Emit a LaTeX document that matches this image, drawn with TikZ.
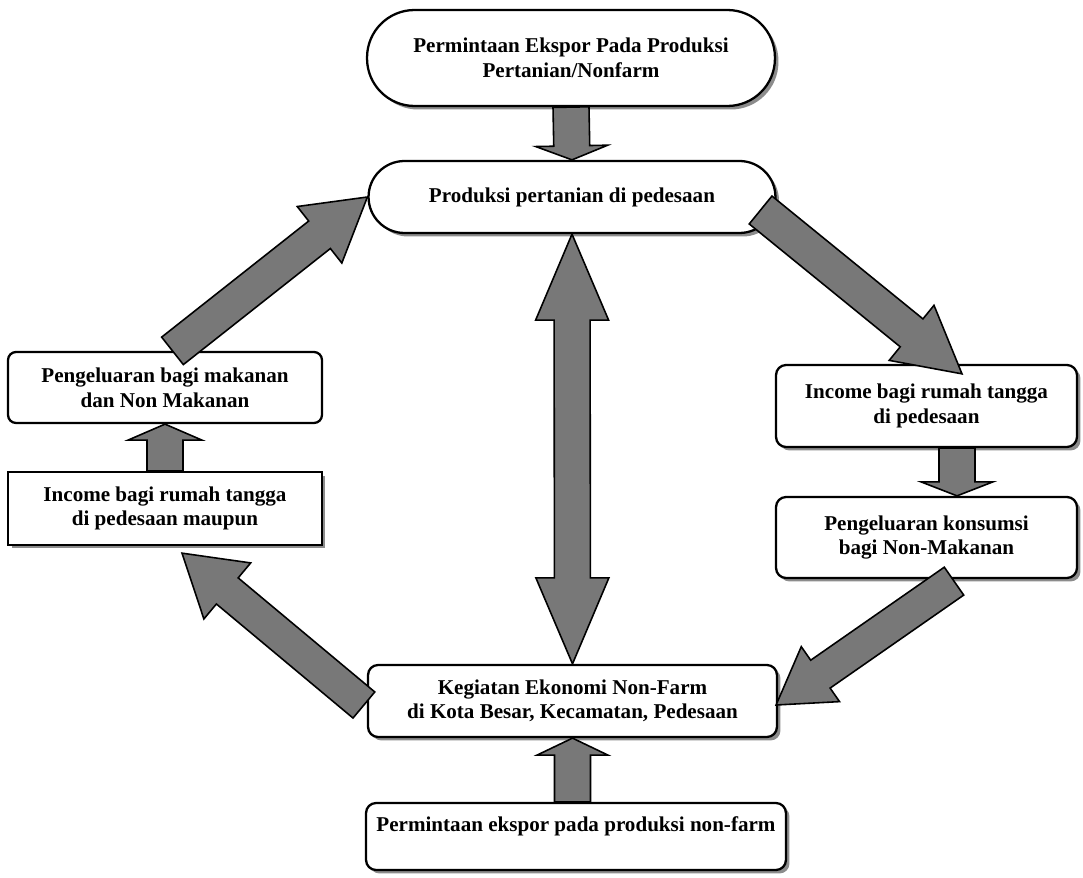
\documentclass[tikz,border=0pt]{standalone}
\usepackage{fontspec}
\setmainfont{Liberation Serif}
\usetikzlibrary{calc,shadows}
\tikzset{
  box/.style={draw, line width=1.3pt, fill=white, align=center,
    font=\bfseries\fontsize{12}{14}\selectfont, inner sep=0pt},
  shad/.style={drop shadow={shadow xshift=0.07cm, shadow yshift=-0.07cm, fill=black!45, opacity=1}},
  barrow/.style={draw, line width=0.9pt, fill=black!53, line join=miter},
}
% #1 tail, #2 tip, #3 half shaft width, #4 half head width, #5 head length
\newcommand{\blockarrow}[5]{%
  \coordinate (ba-b) at ($(#2)!#5!(#1)$);
  \draw[barrow] ($(#1)!#3!90:(#2)$) -- ($(ba-b)!#3!90:(#2)$) -- ($(ba-b)!#4!90:(#2)$)
    -- (#2) -- ($(ba-b)!#4!-90:(#2)$) -- ($(ba-b)!#3!-90:(#2)$) -- ($(#1)!#3!-90:(#2)$) -- cycle;
}
% #1 tip A, #2 tip B, #3 half shaft, #4 half head, #5 head length
\newcommand{\dblarrow}[5]{%
  \coordinate (da-a) at ($(#1)!#5!(#2)$);
  \coordinate (da-b) at ($(#2)!#5!(#1)$);
  \draw[barrow] (#1) -- ($(da-a)!#4!90:(#2)$) -- ($(da-a)!#3!90:(#2)$) -- ($(da-b)!#3!90:(#2)$)
    -- ($(da-b)!#4!90:(#2)$) -- (#2) -- ($(da-b)!#4!-90:(#2)$) -- ($(da-b)!#3!-90:(#2)$)
    -- ($(da-a)!#3!-90:(#2)$) -- ($(da-a)!#4!-90:(#2)$) -- cycle;
}
\begin{document}
\begin{tikzpicture}[x=0.02cm, y=-0.02cm]
\useasboundingbox (0,0) rectangle (1083,878);

\node[box, shad, rounded corners=0.95cm, minimum width=8.16cm, minimum height=1.92cm] (top) at (571,58)
  {Permintaan Ekspor Pada Produksi\\Pertanian/Nonfarm};
\node[box, shad, rounded corners=0.72cm, minimum width=8.14cm, minimum height=1.44cm] (prod) at (572,197)
  {Produksi pertanian di pedesaan};
\node[box, rounded corners=0.16cm, minimum width=6.28cm, minimum height=1.42cm] (lbox1) at (165,387.5)
  {Pengeluaran bagi makanan\\dan Non Makanan};
\node[box, shad, minimum width=6.28cm, minimum height=1.46cm] (lbox2) at (165,508.5)
  {Income bagi rumah tangga\\di pedesaan maupun};
\node[box, shad, rounded corners=0.2cm, minimum width=6.02cm, minimum height=1.64cm] (rbox1) at (926.5,406)
  {Income bagi rumah tangga\\di pedesaan};
\node[box, shad, rounded corners=0.2cm, minimum width=6.02cm, minimum height=1.62cm] (rbox2) at (926.5,537.5)
  {Pengeluaran konsumsi\\bagi Non-Makanan};
\node[box, shad, rounded corners=0.2cm, minimum width=8.18cm, minimum height=1.44cm] (keg) at (572.5,701)
  {Kegiatan Ekonomi Non-Farm\\di Kota Besar, Kecamatan, Pedesaan};
\node[box, shad, rounded corners=0.2cm, minimum width=8.4cm, minimum height=1.34cm] (bot) at (576,836.5)
  {Permintaan ekspor pada produksi non-farm\\ \mbox{}};

\coordinate (a1t) at ($(lbox1.north)+(7.5,0)$);
\coordinate (a2t) at ($(prod.east)+(-16,13)$);
\coordinate (a2h) at ($(rbox1.north)+(35.5,10)$);
\coordinate (a3t) at ($(rbox1.south)+(30.5,0)$);
\coordinate (a3h) at ($(rbox2.north)+(30.5,0)$);
\coordinate (a4t) at ($(rbox2.south)+(27.5,2)$);
\coordinate (a4h) at ($(keg.east)+(-2,4)$);
\coordinate (a5t) at ($(keg.west)+(-3,4)$);
\coordinate (a5h) at ($(lbox2.south)+(17,7)$);
\coordinate (a6t) at (bot.north -| keg.south);

\blockarrow{top.south}{prod.north}{0.36cm}{0.72cm}{0.28cm}
\blockarrow{a1t}{prod.west}{0.35cm}{0.72cm}{1.22cm}
\blockarrow{a2t}{a2h}{0.36cm}{0.71cm}{1.3cm}
\blockarrow{a3t}{a3h}{0.36cm}{0.72cm}{0.28cm}
\blockarrow{a4t}{a4h}{0.34cm}{0.67cm}{1.08cm}
\blockarrow{a5t}{a5h}{0.34cm}{0.73cm}{1.18cm}
\blockarrow{lbox2.north}{lbox1.south}{0.36cm}{0.74cm}{0.32cm}
\blockarrow{a6t}{keg.south}{0.36cm}{0.71cm}{0.34cm}
\dblarrow{prod.south}{keg.north}{0.36cm}{0.73cm}{1.72cm}
\end{tikzpicture}
\end{document}
